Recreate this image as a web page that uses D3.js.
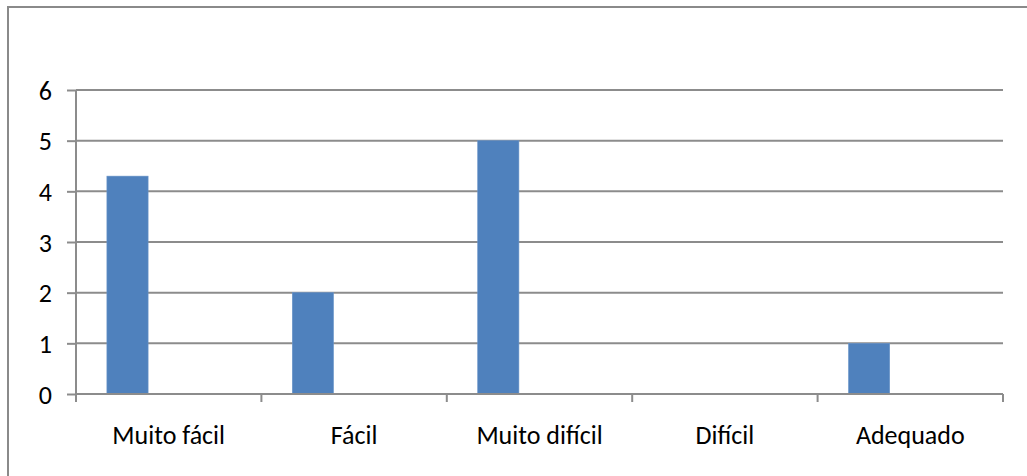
<!DOCTYPE html>
<html>
<head>
<meta charset="utf-8">
<script src="https://cdn.jsdelivr.net/npm/d3@7"></script>
<style>
  html, body { margin: 0; padding: 0; background: #fff; }
  svg { display: block; }
  text { font-family: Calibri, Carlito, Lato, "Liberation Sans", sans-serif; fill: #000; }
</style>
</head>
<body>
<svg id="chart" width="1027" height="476"></svg>
<script>
// Chart data
const categories = ["Muito fácil", "Fácil", "Muito difícil", "Difícil", "Adequado"];
const seriesNames = ["Série 1", "Série 2", "Série 3"];
const series1 = [4.3, 2, 5, 0, 1];
const series2 = [0, 0, 0, 0, 0];
const series3 = [0, 0, 0, 0, 0];
const yTicks = [0, 1, 2, 3, 4, 5, 6];

const allSeries = [series1, series2, series3];

const svg = d3.select("#chart");
const plot = { left: 76, right: 1003, top: 90, bottom: 394 };
const fontSize = "26px";

// Outer chart frame (extends past the right and bottom edges)
svg.append("rect")
  .attr("x", 8).attr("y", 7)
  .attr("width", 1040).attr("height", 490)
  .attr("fill", "#fff")
  .attr("stroke", "#8a8a8a")
  .attr("stroke-width", 2);

const x = d3.scaleBand()
  .domain(categories)
  .range([plot.left, plot.right])
  .paddingInner(0).paddingOuter(0);

// Three series per category with a 150% gap width
const gapRatio = 1.5;
const xs = d3.scaleBand()
  .domain(seriesNames)
  .range([0, x.bandwidth()])
  .paddingInner(0)
  .paddingOuter(gapRatio / 2);

const y = d3.scaleLinear().domain([0, 6]).range([plot.bottom, plot.top]);

// Horizontal gridlines
svg.append("g")
  .selectAll("line")
  .data(yTicks.filter(d => d > 0))
  .join("line")
  .attr("x1", plot.left).attr("x2", plot.right)
  .attr("y1", d => y(d)).attr("y2", d => y(d))
  .attr("stroke", "#8c8c8c")
  .attr("stroke-width", 2);

// Bars
const groups = svg.append("g")
  .selectAll("g")
  .data(allSeries)
  .join("g");

groups.selectAll("rect")
  .data((vals, si) => vals.map((v, ci) => ({ v, ci, si })))
  .join("rect")
  .attr("x", d => x(categories[d.ci]) + xs(seriesNames[d.si]))
  .attr("width", xs.bandwidth())
  .attr("y", d => y(d.v))
  .attr("height", d => y(0) - y(d.v))
  .attr("fill", "#4f81bd")
  .attr("stroke", d => d.v > 0 ? "#6a94c8" : "none")
  .attr("stroke-width", 0.6);

// Y axis
const yAxis = svg.append("g")
  .attr("transform", `translate(${plot.left},0)`)
  .call(d3.axisLeft(y).tickValues(yTicks).tickSize(9).tickPadding(15).tickFormat(d3.format("d")));
yAxis.select(".domain").attr("stroke", "#8c8c8c").attr("stroke-width", 2)
  .attr("d", `M0,${plot.top}V${plot.bottom}`);
yAxis.selectAll(".tick line").attr("stroke", "#8c8c8c").attr("stroke-width", 2);
yAxis.selectAll(".tick text")
  .style("font-size", fontSize)
  .attr("dy", "0.35em");

// X axis with tick marks between categories
const xEdges = d3.range(categories.length + 1).map(i => plot.left + i * x.bandwidth());
const xAxisG = svg.append("g");
xAxisG.append("line")
  .attr("x1", plot.left).attr("x2", plot.right)
  .attr("y1", y(0)).attr("y2", y(0))
  .attr("stroke", "#8c8c8c").attr("stroke-width", 2);
xAxisG.selectAll("line.tick")
  .data(xEdges)
  .join("line")
  .attr("class", "tick")
  .attr("x1", d => d).attr("x2", d => d)
  .attr("y1", y(0)).attr("y2", y(0) + 8)
  .attr("stroke", "#8c8c8c").attr("stroke-width", 2);
xAxisG.selectAll("text")
  .data(categories)
  .join("text")
  .attr("x", d => x(d) + x.bandwidth() / 2)
  .attr("y", 444)
  .attr("text-anchor", "middle")
  .style("font-size", fontSize)
  .text(d => d);
</script>
</body>
</html>
